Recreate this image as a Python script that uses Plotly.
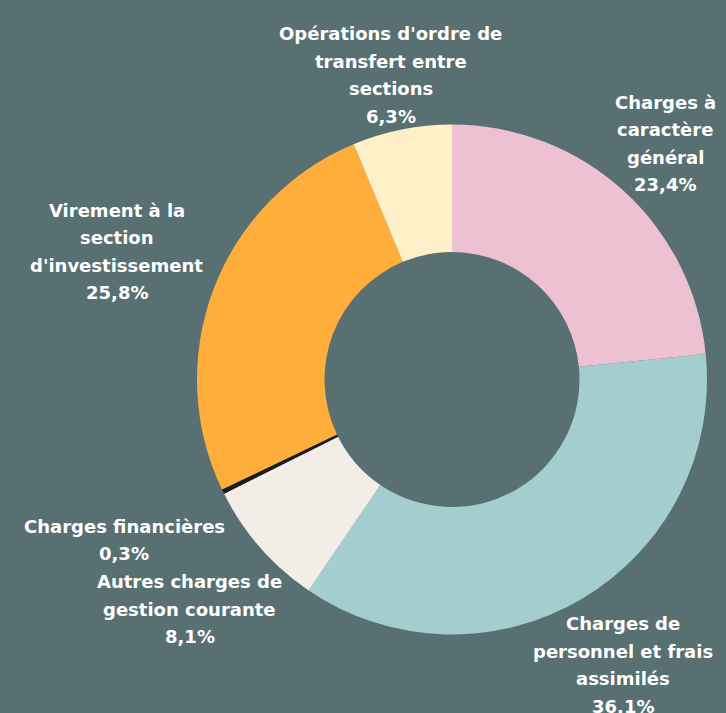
import math
import plotly.graph_objects as go

# ---- data ----
labels = [
    "Charges à caractère général",
    "Charges de personnel et frais assimilés",
    "Autres charges de gestion courante",
    "Charges financières",
    "Virement à la section d'investissement",
    "Opérations d'ordre de transfert entre sections",
]
values = [23.4, 36.1, 8.1, 0.3, 25.8, 6.3]
label_lines = [
    ["Charges à", "caractère", "général"],
    ["Charges de", "personnel et frais", "assimilés"],
    ["Autres charges de", "gestion courante"],
    ["Charges financières"],
    ["Virement à la", "section", "d'investissement"],
    ["Opérations d'ordre de", "transfert entre", "sections"],
]
colors = ["#EEC1D2", "#A4CDCF", "#F2EDE7", "#1C1C1C", "#FFAE3C", "#FFF0C8"]

# ---- layout geometry (pixels) ----
W, H = 726, 713
CX, CY, R = 452, 379.5, 255
BG = "#587072"
FONT = "'DejaVu Sans', sans-serif"
FS = 18
LINE_H = 27.5
UNIT_W = 13.2
GAP = 1
KX, KY = 1.1, 0.75
EDGE = 7
NARROW = set("ilftrj'.,: ")


def text_width(s):
    return sum(0.5 if c in NARROW else 1.0 for c in s) * UNIT_W


fig = go.Figure(
    go.Pie(
        labels=labels,
        values=values,
        sort=False,
        direction="clockwise",
        rotation=0,
        hole=0.5,
        marker=dict(colors=colors, line=dict(width=0)),
        textinfo="none",
        hoverinfo="label+percent",
        domain=dict(
            x=[(CX - R) / W, (CX + R) / W],
            y=[(H - CY - R) / H, (H - CY + R) / H],
        ),
        showlegend=False,
    )
)

# ---- labels placed outside along each slice's mid-angle ----
total = sum(values)
cum = 0.0
annotations = []
for v, lines in zip(values, label_lines):
    mid = (cum + v / 2) / total * 2 * math.pi
    cum += v
    sx, sy = math.sin(mid), -math.cos(mid)  # screen direction (y down)
    all_lines = lines + [f"{v:.1f}".replace(".", ",") + "%"]
    n = len(all_lines)
    w = max(text_width(s) for s in all_lines)
    h = (n - 1) * LINE_H
    dist = R + GAP + KX * abs(sx) * w / 2 + KY * abs(sy) * h / 2
    lx, ly = CX + sx * dist, CY + sy * dist
    # clamp the label block inside the canvas
    ly = min(ly, H - EDGE - h / 2)
    ly = max(ly, EDGE + h / 2)
    for i, s in enumerate(all_lines):
        py = ly + (i - (n - 1) / 2) * LINE_H
        annotations.append(
            dict(
                x=lx / W,
                y=1 - py / H,
                xref="paper",
                yref="paper",
                text=s,
                showarrow=False,
                xanchor="center",
                yanchor="middle",
                font=dict(family=FONT, size=FS, color="#FFFFFF", weight=700),
            )
        )

fig.update_layout(
    width=W,
    height=H,
    margin=dict(l=0, r=0, t=0, b=0),
    paper_bgcolor=BG,
    plot_bgcolor=BG,
    annotations=annotations,
)

fig.write_html(
    "out.html",
    config={"displayModeBar": False},
    post_script="document.body.style.margin='0';document.body.style.background='" + BG + "';",
)
